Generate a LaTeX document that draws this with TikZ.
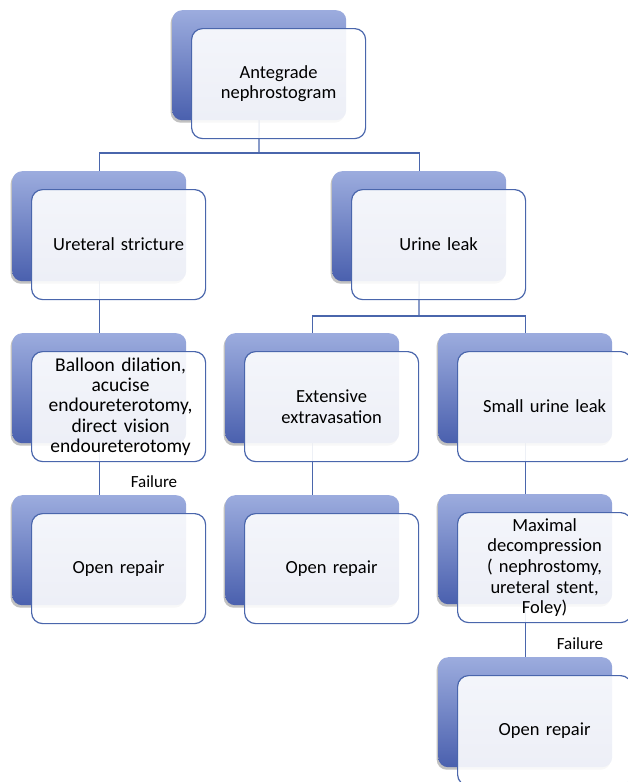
\documentclass[tikz,border=0pt]{standalone}
\usepackage{fontspec}
\setmainfont{Carlito}
\usetikzlibrary{shadows,calc}
\definecolor{backtop}{RGB}{156,172,222}
\definecolor{backbot}{RGB}{74,96,174}
\definecolor{frontline}{RGB}{74,102,172}
\definecolor{conn}{RGB}{74,102,172}
\pgfdeclarelayer{bg}
\pgfsetlayers{bg,main}
\tikzset{
  backbox/.style={rectangle, rounded corners=10pt, minimum width=174pt, minimum height=110pt,
    anchor=north west, draw=none, top color=backtop, bottom color=backbot, inner sep=0pt,
    drop shadow={shadow xshift=-1.5pt, shadow yshift=-2.5pt, opacity=0.35, fill=black!70}},
  frontbox/.style={rectangle, rounded corners=11pt, minimum width=174pt, minimum height=110pt,
    anchor=north west, draw=frontline, line width=1.2pt, fill=white, fill opacity=0.9,
    text opacity=1, draw opacity=1, align=center, text width=168pt, inner sep=3pt,
    font=\fontsize{18.5}{20.7}\selectfont},
  bigtext/.style={font=\fontsize{19.5}{20.4}\selectfont},
  lbl/.style={font=\fontsize{17}{20}\selectfont, inner sep=0pt},
  conline/.style={draw=conn, line width=1.4pt},
}
\newcommand\smartbox[5][]{%
  \node[backbox] (#2b) at (#3,#4) {};
  \node[frontbox,#1] (#2) at ($(#2b.north west)+(19,18)$) {#5};
}
\begin{document}
\begin{tikzpicture}[x=1pt,y=-1pt]
\useasboundingbox (0,0) rectangle (628,782);
\smartbox{top}{172}{10}{Antegrade\\nephrostogram}
\smartbox{ure}{12}{171}{Ureteral stricture}
\smartbox{leak}{332}{171}{Urine leak}
\smartbox[bigtext]{bal}{12}{333}{\hspace*{4pt}Balloon dilation,\\\hspace*{4pt}acucise\\\hspace*{4pt}endoureterotomy,\\\hspace*{4pt}direct vision\\\hspace*{4pt}endoureterotomy}
\smartbox{ext}{225}{333}{Extensive\\extravasation}
\smartbox{small}{438}{333}{Small urine leak}
\smartbox{openA}{12}{495}{Open repair}
\smartbox{openB}{225}{495}{Open repair}
\smartbox{max}{438}{494}{Maximal\\decompression\\( nephrostomy,\\ureteral stent,\\Foley)}
\smartbox{openC}{438}{657}{Open repair}
\node[lbl] (fail1) at (154,482) {Failure};
\node[lbl] (fail2) at (580,644) {Failure};
\coordinate (j1) at (259,153);
\coordinate (j2) at (419,316);
\begin{pgfonlayer}{bg}
\draw[conline] (topb.center) -- (j1);
\draw[conline] (j1) -| (ureb.center);
\draw[conline] (j1) -| (leakb.center);
\draw[conline] (ureb.center) -- (balb.center);
\draw[conline] (balb.center) -- (openAb.center);
\draw[conline] (leakb.center) -- (j2);
\draw[conline] (j2) -| (extb.center);
\draw[conline] (j2) -| (smallb.center);
\draw[conline] (extb.center) -- (openBb.center);
\draw[conline] (smallb.center) -- (maxb.center);
\draw[conline] (maxb.center) -- (openCb.center);
\end{pgfonlayer}
\end{tikzpicture}
\end{document}
